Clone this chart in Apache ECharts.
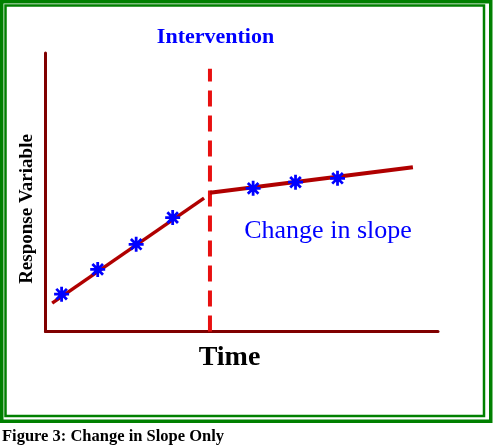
<!DOCTYPE html>
<html>
<head>
<meta charset="utf-8">
<script src="https://cdn.jsdelivr.net/npm/echarts@6/dist/echarts.min.js"></script>
<style>
html,body{margin:0;padding:0;background:#fff;}
#c{width:493px;height:447px;}
</style>
</head>
<body>
<div id="c"></div>
<script>
// ---- data ----
var prePoints = [[0.41, 1.34], [1.33, 2.23], [2.31, 3.13], [3.24, 4.09]];
var postPoints = [[5.29, 5.14], [6.37, 5.36], [7.44, 5.50]];
var preTrend = [[0.17, 1.02], [4.04, 4.79]];
var postTrend = [[4.19, 4.98], [9.36, 5.90]];
var interventionX = 4.19;
var interventionTop = 9.43;
var interventionLine = [[interventionX, 0], [interventionX, interventionTop]];
var labels = {
  intervention: 'Intervention',
  change: 'Change in slope',
  xName: 'Time',
  yName: 'Response Variable',
  caption: 'Figure 3: Change in Slope Only'
};

var asterisk = 'path://M-1.3,-7 L1.3,-7 L1.3,7 L-1.3,7 Z M-7,-1.3 L7,-1.3 L7,1.3 L-7,1.3 Z ' +
  'M-5.87,-4.03 L-4.03,-5.87 L5.87,4.03 L4.03,5.87 Z ' +
  'M-4.03,5.87 L-5.87,4.03 L4.03,-5.87 L5.87,-4.03 Z';

var chart = echarts.init(document.getElementById('c'), null, {renderer: 'canvas'});
var serif = '"Liberation Serif", "DejaVu Serif", serif';

chart.setOption({
  backgroundColor: '#ffffff',
  animation: false,
  grid: {left: 45.5, top: 53, right: 55, bottom: 115.5},
  xAxis: {
    type: 'value', min: 0, max: 10,
    axisLine: {show: true, lineStyle: {color: '#800000', width: 3}},
    axisTick: {show: false}, axisLabel: {show: false}, splitLine: {show: false}
  },
  yAxis: {
    type: 'value', min: 0, max: 10,
    axisLine: {show: true, lineStyle: {color: '#800000', width: 3}},
    axisTick: {show: false}, axisLabel: {show: false}, splitLine: {show: false}
  },
  series: [
    {
      type: 'line', data: interventionLine, symbol: 'none', z: 3,
      lineStyle: {color: '#e81010', width: 4, type: [16, 9], cap: 'butt'}
    },
    {
      type: 'line', data: preTrend, symbol: 'none', z: 4,
      lineStyle: {color: '#b00000', width: 3.5}
    },
    {
      type: 'line', data: postTrend, symbol: 'none', z: 4,
      lineStyle: {color: '#b00000', width: 4}
    },
    {
      type: 'scatter', data: prePoints.concat(postPoints), z: 5,
      symbol: asterisk, symbolSize: 15,
      itemStyle: {color: '#0000ff', opacity: 1}
    }
  ],
  graphic: [
    {type: 'rect', silent: true, shape: {x: 1.75, y: 1.75, width: 489, height: 419.5},
     style: {fill: 'none', stroke: '#008000', lineWidth: 3.5}},
    {type: 'rect', silent: true, shape: {x: 5.5, y: 5.5, width: 478.5, height: 410.5},
     style: {fill: 'none', stroke: '#008000', lineWidth: 2.5}},
    {type: 'text', x: 215.5, y: 37, silent: true,
     style: {text: labels.intervention, fill: '#0000ff', font: 'bold 22px ' + serif,
             textAlign: 'center', textVerticalAlign: 'middle'}},
    {type: 'text', x: 328, y: 231, silent: true,
     style: {text: labels.change, fill: '#0000ff', font: '26px ' + serif,
             textAlign: 'center', textVerticalAlign: 'middle'}},
    {type: 'text', x: 229.5, y: 358, silent: true,
     style: {text: labels.xName, fill: '#000000', font: 'bold 28px ' + serif,
             textAlign: 'center', textVerticalAlign: 'middle'}},
    {type: 'text', x: 27, y: 209, rotation: Math.PI / 2, silent: true,
     style: {text: labels.yName, fill: '#000000', font: 'bold 19px ' + serif,
             textAlign: 'center', textVerticalAlign: 'middle'}},
    {type: 'text', x: 2, y: 436.5, silent: true,
     style: {text: labels.caption, fill: '#000000', font: 'bold 16.5px ' + serif,
             textAlign: 'left', textVerticalAlign: 'middle'}}
  ]
});
</script>
</body>
</html>
